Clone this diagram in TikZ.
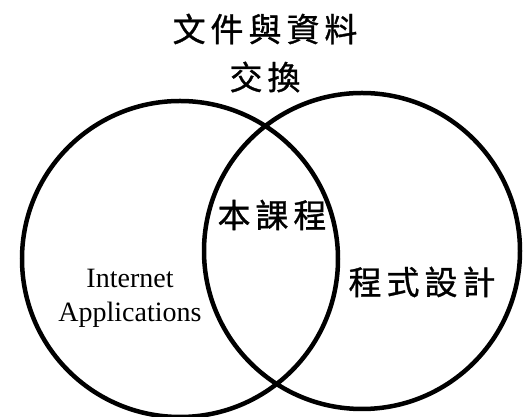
\documentclass[tikz,border=0pt]{standalone}
\usepackage{fontspec}
\setmainfont{Liberation Serif}
\newfontfamily\cjkfont[LetterSpace=15, FakeBold=1]{Noto Sans CJK TC}
\usepackage{tikz}
\usepackage{xcolor}
\tikzset{
    venn-circle/.style = {draw=black, circle, line width=4.5pt, minimum size=316pt, inner sep=0pt},
    cjk-label/.style = {font=\cjkfont\fontsize{33}{38}\selectfont, inner sep=0pt},
    latin-label/.style = {font=\fontsize{28}{34}\selectfont, align=center, inner sep=0pt},
}

\begin{document}
\begin{tikzpicture}[x=1pt, y=1pt]
\useasboundingbox (0,0) rectangle (528,417);
\node [venn-circle] (internet) at (180,158) {};
\node [venn-circle] (programming) at (362,166) {};
\node [cjk-label] (title-top) at (265,388) {文件與資料};
\node [cjk-label] (title-bottom) at (265,340) {交換};
\node [cjk-label] (course) at (272,202) {本課程};
\node [cjk-label] (coding) at (422,135) {程式設計};
\node [latin-label] (apps) at (130,119) {Internet\\Applications};
\end{tikzpicture}
\end{document}
